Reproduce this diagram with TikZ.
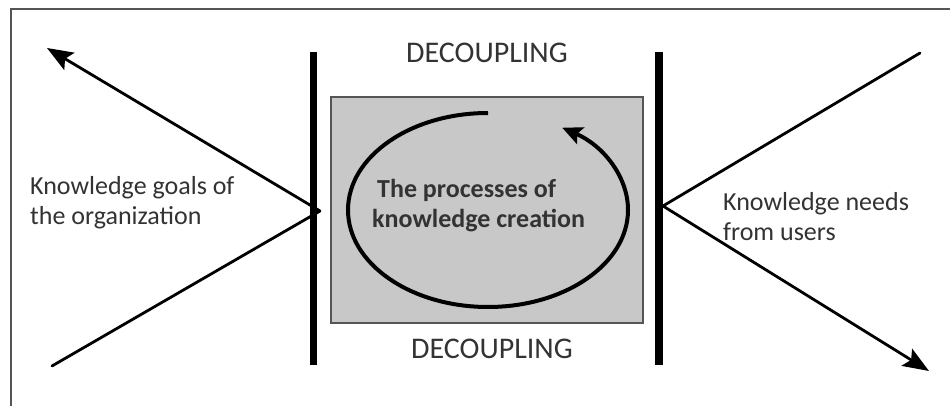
\documentclass[tikz,border=0pt]{standalone}
\usepackage{fontspec}
\setmainfont{Carlito}
\usetikzlibrary{arrows.meta}
\definecolor{txt}{HTML}{333333}
\definecolor{boxfill}{HTML}{C8C8C8}
\definecolor{frame}{HTML}{555555}
\tikzset{
  bar/.style={line width=7.5pt},
  ray/.style={line width=2.8pt, black},
  bigtip/.style={-{Stealth[length=26pt,width=20pt,inset=5pt]}},
  side/.style={font=\fontsize{26}{30}\selectfont, text=txt, align=left, inner sep=0pt},
  deco/.style={font=\fontsize{30}{34}\selectfont, text=txt, inner sep=0pt},
  centre/.style={font=\fontsize{26}{30}\selectfont\bfseries, text=txt, align=left, inner sep=0pt},
}
\begin{document}
\begin{tikzpicture}[x=1pt,y=-1pt]
\useasboundingbox (0,0) rectangle (950,406);
\fill[white] (0,0) rectangle (950,406);
% frame
\draw[frame, line width=2pt] (11,430) -- (11,9) -- (960,9);
% gray box
\node[draw=frame, line width=1.5pt, fill=boxfill, minimum width=312pt, minimum height=226pt, inner sep=0pt] (box) at (487,210) {};
% bars
\coordinate (lbt) at (313.5,52);
\coordinate (lbb) at (313.5,365);
\coordinate (rbt) at (659,52);
\coordinate (rbb) at (659,365);
\draw[bar] (lbt) -- (lbb);
\draw[bar] (rbt) -- (rbb);
% junctions and ray ends
\coordinate (jl) at (320,211);
\coordinate (jr) at (663,206);
\coordinate (ltop) at (47,48);
\coordinate (lbot) at (52,366);
\coordinate (rtop) at (920,53);
\coordinate (rbot) at (929,371);
\draw[ray, bigtip] (jl) -- (ltop);
\draw[ray, line cap=round] (jl) -- (lbot);
\draw[ray, line cap=round] (jr) -- (rtop);
\draw[ray, bigtip] (jr) -- (rbot);
% cycle arrow
\coordinate (cc) at (488,210);
\draw[line width=4pt, -{Stealth[length=20pt,width=18pt,inset=4pt]}]
  ([shift={(-90:140 and 97)}]cc) arc[start angle=-90, end angle=-418, x radius=140, y radius=97];
% texts
\node[deco] (dtop) at (487,53) {DECOUPLING};
\node[deco] (dbot) at (492,349) {DECOUPLING};
\node[side, anchor=west] (lt) at (30,203) {Knowledge goals of\\the organization};
\node[side, anchor=west] (rt) at (723,217) {Knowledge needs\\from users};
\node[centre, anchor=west] (ct) at (372,206) {\hspace*{5pt}The processes of\\knowledge creation};
\end{tikzpicture}
\end{document}
